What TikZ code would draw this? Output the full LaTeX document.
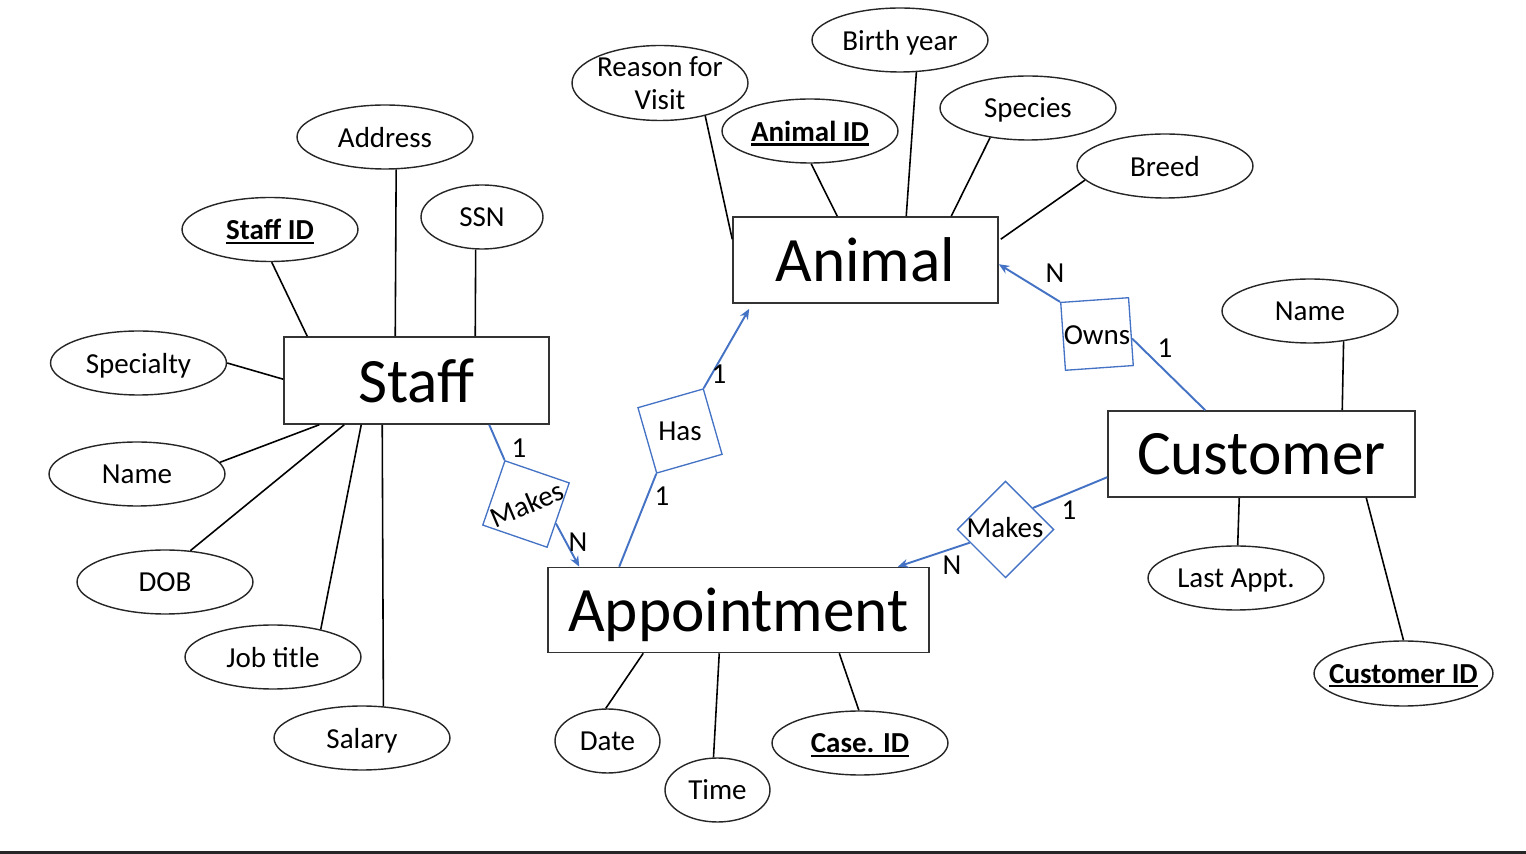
\documentclass[tikz,border=0pt]{standalone}
\usepackage{fontspec}
\setmainfont{Carlito}
\usetikzlibrary{shapes.geometric,calc,arrows.meta}
\definecolor{relblue}{HTML}{4472C4}
\newcommand{\myul}[1]{\setbox0\hbox{#1}\rlap{\vrule height -1.3pt depth 2.5pt width \wd0}\box0}
\begin{document}
\begin{tikzpicture}[x=0.02cm,y=-0.02cm,
  entity/.style={rectangle, draw=black!80, line width=0.9pt, inner sep=0pt,
    font=\fontsize{36}{43}\selectfont},
  entitytext/.style={font=\fontsize{36}{43}\selectfont, inner sep=0pt, text depth=0pt},
  attrtext/.style={font=\fontsize{16.5}{19}\selectfont, align=center, inner sep=0pt, text depth=0pt},
  attr/.style={ellipse, draw=black!85, line width=0.8pt, minimum width=3.52cm,
    minimum height=1.28cm, inner sep=0pt, label={[attrtext]center:#1}},
  rel/.style={rectangle, draw=relblue, line width=0.75pt, minimum size=1.36cm, inner sep=0pt},
  reltext/.style={font=\fontsize{16.5}{19}\selectfont, inner sep=0pt},
  card/.style={font=\fontsize{16.5}{19}\selectfont, inner sep=0pt},
  attrline/.style={draw=black, line width=0.9pt},
  rline/.style={draw=relblue, line width=1.1pt},
  rarrow/.style={rline, -{Stealth[length=6pt,width=5pt]}}
]
\useasboundingbox (0,0) rectangle (1526,854);
\fill[black!85] (0,851) rectangle (1526,854);

% entities
\node[entity, minimum width=5.3cm, minimum height=1.72cm,
  label={[entitytext]center:Animal}] (animal) at (865.5,260) {};
\node[entity, minimum width=5.3cm, minimum height=1.74cm,
  label={[entitytext]center:Staff}] (staff) at (416.5,380.5) {};
\node[entity, minimum width=6.14cm, minimum height=1.72cm,
  label={[entitytext]center:Customer}] (customer) at (1261.5,454) {};
\node[entity, minimum width=7.62cm, minimum height=1.7cm,
  label={[entitytext]center:Appointment}] (appt) at (738.5,610) {};

% attributes
\node[attr={Birth year}] (birth) at (900,40) {};
\node[attr={Reason for\\Visit}, minimum height=1.5cm] (reason) at (660,83) {};
\node[attr={\myul{\bfseries Animal ID}}] (animalid) at (810,131) {};
\node[attr=Species] (species) at (1028,108) {};
\node[attr=Breed] (breed) at (1165,166) {};
\node[attr=Address] (address) at (385,137) {};
\node[attr={\myul{\bfseries Staff ID}}] (staffid) at (270,229.5) {};
\node[attr=SSN, minimum width=2.44cm] (ssn) at (482,217) {};
\node[attr=Specialty] (specialty) at (138.5,363) {};
\node[attr=Name] (sname) at (137,474) {};
\node[attr=DOB] (dob) at (165,582) {};
\node[attr={Job title}] (job) at (273,657) {};
\node[attr=Salary] (salary) at (362,738) {};
\node[attr=Date, minimum width=2.1cm] (date) at (607.5,741) {};
\node[attr=Time, minimum width=2.1cm] (time) at (717.5,790) {};
\node[attr={\myul{\bfseries Case. ID}}] (caseid) at (860,743) {};
\node[attr=Name] (cname) at (1310,311) {};
\node[attr={Last Appt.}] (last) at (1236,578) {};
\node[attr={\myul{\bfseries Customer ID}}, minimum width=3.58cm, minimum height=1.3cm] (custid) at (1403.5,673.5) {};

% attribute lines
\draw[attrline] (reason.-36) -- ($(animal.north west)+(0,23)$);
\draw[attrline] (animalid.-88) -- ($(animal.north west)+(105,0)$);
\draw[attrline] (birth.-63) -- ($(animal.north west)+(174,0)$);
\draw[attrline] (species.-142.7) -- ($(animal.north west)+(219,0)$);
\draw[attrline] (breed.-170.5) -- ($(animal.north east)+(2,23)$);

\draw[attrline] (address.-71) -- ($(staff.north west)+(112,0)$);
\draw[attrline] (staffid.-87) -- ($(staff.north west)+(24,0)$);
\draw[attrline] (ssn.-101) -- ($(staff.north west)+(192,0)$);
\draw[attrline] (specialty.east) -- ($(staff.north west)+(0,43)$);
\draw[attrline] (sname.8) -- ($(staff.south west)+(36,0)$);
\draw[attrline] (dob.51) -- ($(staff.south west)+(61,0)$);
\draw[attrline] (job.30) -- ($(staff.south west)+(78,0)$);
\draw[attrline] (salary.56) -- ($(staff.south west)+(99,0)$);

\draw[attrline] (date.93) -- ($(appt.south west)+(96,0)$);
\draw[attrline] (time.97) -- ($(appt.south west)+(172,0)$);
\draw[attrline] (caseid.92) -- ($(appt.south west)+(292,0)$);

\draw[attrline] (cname.-42) -- ($(customer.north west)+(235,0)$);
\draw[attrline] (last.87) -- ($(customer.south west)+(132,0)$);
\draw[attrline] (custid.90) -- ($(customer.south west)+(259,0)$);

% relationships
\node[rel, rotate=-19] (makes1) at (526,504) {};
\node[reltext, rotate=23] (makes1t) at (527,504) {Makes};
\node[rel, rotate=16] (has) at (680,431) {};
\node[reltext] (hast) at (680,431) {Has};
\node[rel, rotate=4] (owns) at (1097,334) {};
\node[reltext] (ownst) at (1097,335) {Owns};
\node[rel, rotate=45] (makes2) at (1005.5,529.5) {};
\node[reltext] (makes2t) at (1005,528) {Makes};

% relationship connectors
\draw[rline] ($(staff.south west)+(206,0)$) -- (makes1.north west);
\draw[rarrow] ($(makes1.north east)!0.625!(makes1.south east)$) -- ($(appt.north west)+(32,0)$);
\draw[rline] ($(appt.north west)+(72,0)$) -- (has.south west);
\draw[rarrow] (has.north east) -- ($(animal.south west)+(17,5)$);
\draw[rarrow] (owns.north west) -- ($(animal.north east)+(0,48)$);
\draw[rline] ($(owns.north east)!0.6!(owns.south east)$) -- ($(customer.north west)+(98,0)$);
\draw[rline] ($(customer.north west)+(0,67)$) -- ($(makes2.north east)!0.56!(makes2.south east)$);
\draw[rarrow] ($(makes2.north west)!0.27!(makes2.south west)$) -- ($(appt.north east)+(-32,0)$);

% cardinalities
\node[card] (c1) at (519,448) {1};
\node[card] (c2) at (578,542) {N};
\node[card] (c3) at (719,374) {1};
\node[card] (c4) at (662,496) {1};
\node[card] (c5) at (1055,273) {N};
\node[card] (c6) at (1165,348) {1};
\node[card] (c7) at (1069,510) {1};
\node[card] (c8) at (952,565) {N};
\end{tikzpicture}
\end{document}
